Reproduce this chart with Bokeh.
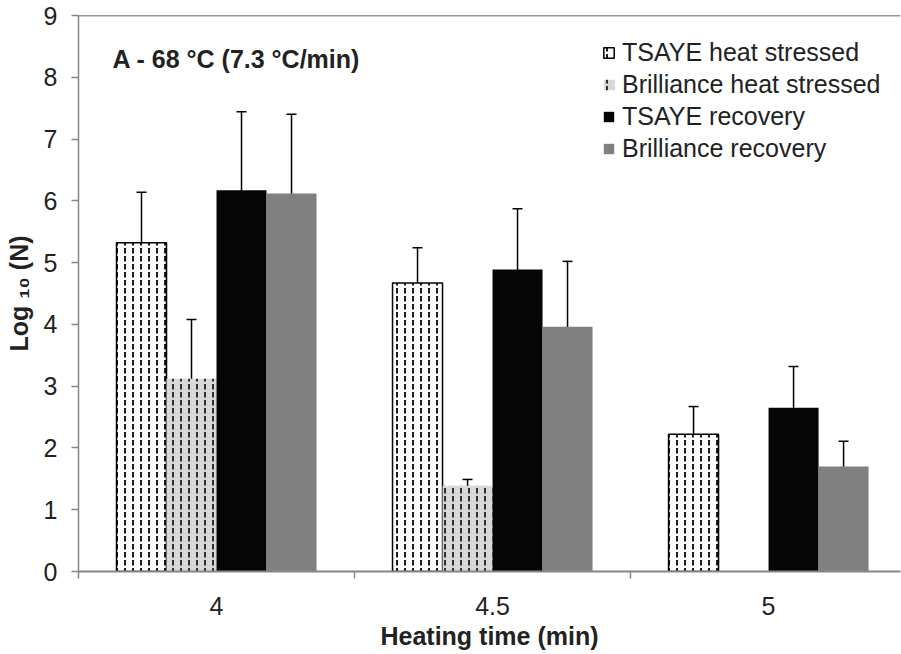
from bokeh.plotting import figure
from bokeh.models import (Range1d, FixedTicker, Whisker, TeeHead, ColumnDataSource,
                          Legend, LegendItem, Label, Span)
from bokeh.embed import file_html
from bokeh.resources import INLINE

categories = ["4", "4.5", "5"]
series = ["TSAYE heat stressed", "Brilliance heat stressed", "TSAYE recovery", "Brilliance recovery"]
tsaye_hs = [5.32, 4.67, 2.22]
tsaye_hs_err = [0.82, 0.57, 0.45]
bril_hs = [3.12, 1.39, 0.0]
bril_hs_err = [0.96, 0.10, 0.0]
tsaye_rec = [6.17, 4.89, 2.65]
tsaye_rec_err = [1.27, 0.98, 0.67]
bril_rec = [6.12, 3.96, 1.70]
bril_rec_err = [1.28, 1.06, 0.41]
y_ticks = [0, 1, 2, 3, 4, 5, 6, 7, 8, 9]

FONT = "Liberation Sans"
TXT = "#222222"

p = figure(width=901, height=654, output_backend="svg", toolbar_location=None,
           x_range=Range1d(-0.5, 2.478), y_range=Range1d(0, 9),
           min_border_left=78, min_border_right=1, min_border_top=15, min_border_bottom=83)
p.outline_line_color = None
p.xgrid.visible = False
p.ygrid.visible = False
p.background_fill_color = "white"
p.border_fill_color = "white"

xs = list(range(len(categories)))
bw = 50 / 276.0
offsets = [-1.5 * bw, -0.5 * bw, 0.5 * bw, 1.5 * bw]

styles = [
    dict(fill_color="white", line_color="black", line_width=1.5,
         hatch_pattern="vertical_dash", hatch_color="#1a1a1a", hatch_scale=8, hatch_weight=2),
    dict(fill_color="#d9d9d9", line_color=None,
         hatch_pattern="vertical_dash", hatch_color="#2e2e2e", hatch_scale=8, hatch_weight=2),
    dict(fill_color="#050505", line_color=None),
    dict(fill_color="#808080", line_color=None),
]
vals = [tsaye_hs, bril_hs, tsaye_rec, bril_rec]
errs = [tsaye_hs_err, bril_hs_err, tsaye_rec_err, bril_rec_err]

items = []
for i, (v, st) in enumerate(zip(vals, styles)):
    xpos = [x + offsets[i] for x in xs]
    src = ColumnDataSource(dict(x=xpos, top=v))
    r = p.vbar(x="x", top="top", bottom=0, width=bw, source=src, **st)
    items.append(LegendItem(label=series[i], renderers=[r]))
for i, (v, e) in enumerate(zip(vals, errs)):
    xe, lo, up = [], [], []
    for x, vv, ee in zip(xs, v, e):
        if vv > 0 and ee > 0:
            xe.append(x + offsets[i]); lo.append(vv - ee); up.append(vv + ee)
    wsrc = ColumnDataSource(dict(x=xe, lower=lo, upper=up))
    w = Whisker(base="x", lower="lower", upper="upper", source=wsrc, dimension="height",
                line_color="black", line_width=1.5,
                lower_head=TeeHead(size=10, line_color="black", line_width=1.5),
                upper_head=TeeHead(size=10, line_color="black", line_width=1.5))
    p.add_layout(w)

legend = Legend(items=items, location=(524, 408), orientation="vertical",
                label_text_font=FONT, label_text_font_size="25px", label_text_color=TXT,
                glyph_width=13, glyph_height=13, label_height=30, spacing=2,
                label_standoff=7, padding=0, margin=0,
                border_line_color=None, background_fill_alpha=0)
p.add_layout(legend, "center")

# y axis
ya = p.yaxis[0]
ya.ticker = FixedTicker(ticks=y_ticks, minor_ticks=[])
ya.axis_line_color = "#868686"
ya.axis_line_width = 1.5
ya.major_tick_line_color = "#868686"
ya.major_tick_line_width = 1.5
ya.major_tick_out = 7
ya.major_tick_in = 0
ya.minor_tick_line_color = None
ya.major_label_standoff = 14
ya.major_label_text_font = FONT
ya.major_label_text_font_size = "25px"
ya.major_label_text_color = TXT
ya.axis_label = "Log \u2081\u2080 (N)"
ya.axis_label_text_font = FONT
ya.axis_label_text_font_size = "25px"
ya.axis_label_text_font_style = "bold"
ya.axis_label_text_color = TXT
ya.axis_label_standoff = 8

# x axis
xa = p.xaxis[0]
xa.ticker = FixedTicker(ticks=xs, minor_ticks=[-0.5, 0.5, 1.5])
xa.major_label_overrides = {i: c for i, c in enumerate(categories)}
xa.axis_line_color = "#868686"
xa.axis_line_width = 2
xa.major_tick_line_color = None
xa.major_tick_out = 0
xa.major_tick_in = 0
xa.minor_tick_line_color = "#868686"
xa.minor_tick_line_width = 1.5
xa.minor_tick_out = 7
xa.minor_tick_in = 0
xa.major_label_standoff = 18
xa.major_label_text_font = FONT
xa.major_label_text_font_size = "25px"
xa.major_label_text_color = TXT
xa.axis_label = "Heating time (min)"
xa.axis_label_text_font = FONT
xa.axis_label_text_font_size = "25px"
xa.axis_label_text_font_style = "bold"
xa.axis_label_text_color = TXT
xa.axis_label_standoff = 4

p.add_layout(Span(location=9, dimension="width", line_color="#303030", line_width=1.5))

p.add_layout(Label(x=-0.5 + 34 / 276.0, y=(571 - 58) / 61.8, text="A - 68 \u00b0C (7.3 \u00b0C/min)",
                   text_font=FONT, text_font_size="25px", text_font_style="bold",
                   text_color=TXT, text_align="left", text_baseline="middle"))

open("out.html", "w").write(file_html(p, INLINE))
